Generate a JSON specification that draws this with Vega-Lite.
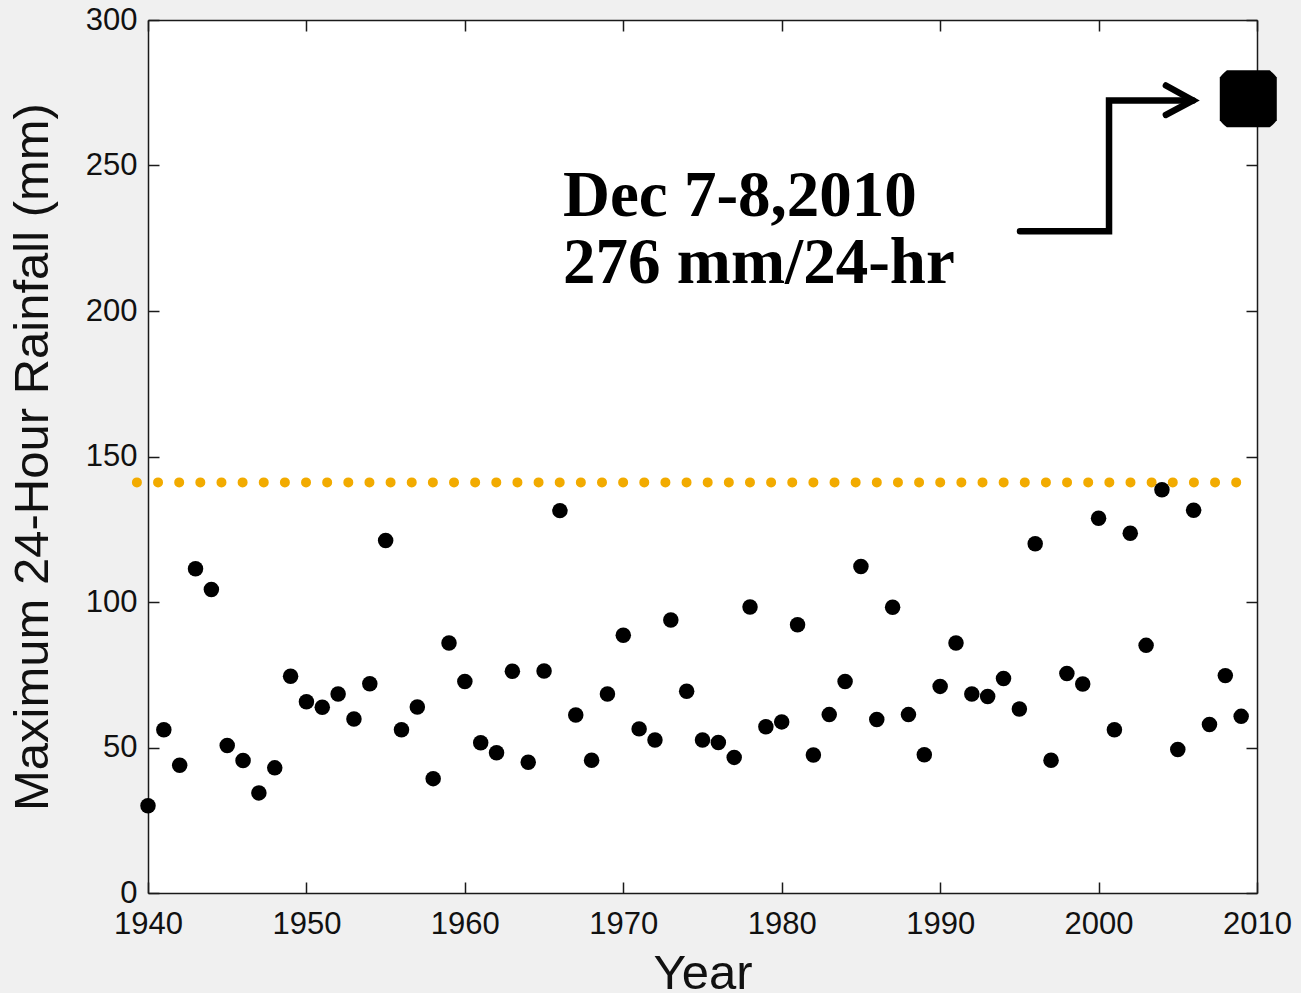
{
  "$schema": "https://vega.github.io/schema/vega-lite/v6.json",
  "width": 1109,
  "height": 873,
  "autosize": {"type": "none"},
  "padding": {"left": 148, "top": 20, "right": 44, "bottom": 100},
  "background": "#f0f0f0",
  "config": {
    "view": {"fill": "white", "stroke": null},
    "font": "Liberation Sans",
    "axis": {
      "domainColor": "#1a1a1a",
      "domainWidth": 1.5,
      "tickColor": "#1a1a1a",
      "tickWidth": 1.5,
      "tickSize": -11,
      "grid": false,
      "labelFont": "Liberation Sans",
      "labelFontSize": 31,
      "labelColor": "#111111",
      "titleFont": "Liberation Sans",
      "titleFontSize": 49,
      "titleFontWeight": "normal",
      "titleColor": "#111111",
      "labelFlush": false,
      "labelOverlap": false
    }
  },
  "datasets": {
    "rain": [
      {"year": 1940, "mm": 30.0}, {"year": 1941, "mm": 56.1}, {"year": 1942, "mm": 43.9},
      {"year": 1943, "mm": 111.4}, {"year": 1944, "mm": 104.3}, {"year": 1945, "mm": 50.7},
      {"year": 1946, "mm": 45.5}, {"year": 1947, "mm": 34.4}, {"year": 1948, "mm": 43.0},
      {"year": 1949, "mm": 74.5}, {"year": 1950, "mm": 65.7}, {"year": 1951, "mm": 63.8},
      {"year": 1952, "mm": 68.4}, {"year": 1953, "mm": 59.8}, {"year": 1954, "mm": 71.9},
      {"year": 1955, "mm": 121.1}, {"year": 1956, "mm": 56.1}, {"year": 1957, "mm": 63.9},
      {"year": 1958, "mm": 39.3}, {"year": 1959, "mm": 85.9}, {"year": 1960, "mm": 72.7},
      {"year": 1961, "mm": 51.6}, {"year": 1962, "mm": 48.2}, {"year": 1963, "mm": 76.2},
      {"year": 1964, "mm": 44.9}, {"year": 1965, "mm": 76.3}, {"year": 1966, "mm": 131.4},
      {"year": 1967, "mm": 61.2}, {"year": 1968, "mm": 45.6}, {"year": 1969, "mm": 68.4},
      {"year": 1970, "mm": 88.6}, {"year": 1971, "mm": 56.4}, {"year": 1972, "mm": 52.6},
      {"year": 1973, "mm": 93.8}, {"year": 1974, "mm": 69.3}, {"year": 1975, "mm": 52.6},
      {"year": 1976, "mm": 51.7}, {"year": 1977, "mm": 46.6}, {"year": 1978, "mm": 98.3},
      {"year": 1979, "mm": 57.1}, {"year": 1980, "mm": 58.8}, {"year": 1981, "mm": 92.2},
      {"year": 1982, "mm": 47.4}, {"year": 1983, "mm": 61.3}, {"year": 1984, "mm": 72.7},
      {"year": 1985, "mm": 112.2}, {"year": 1986, "mm": 59.6}, {"year": 1987, "mm": 98.2},
      {"year": 1988, "mm": 61.3}, {"year": 1989, "mm": 47.5}, {"year": 1990, "mm": 71.0},
      {"year": 1991, "mm": 85.9}, {"year": 1992, "mm": 68.4}, {"year": 1993, "mm": 67.5},
      {"year": 1994, "mm": 73.7}, {"year": 1995, "mm": 63.2}, {"year": 1996, "mm": 120.0},
      {"year": 1997, "mm": 45.6}, {"year": 1998, "mm": 75.4}, {"year": 1999, "mm": 71.8},
      {"year": 2000, "mm": 128.8}, {"year": 2001, "mm": 56.1}, {"year": 2002, "mm": 123.6},
      {"year": 2003, "mm": 85.1}, {"year": 2004, "mm": 138.6}, {"year": 2005, "mm": 49.3},
      {"year": 2006, "mm": 131.5}, {"year": 2007, "mm": 57.9}, {"year": 2008, "mm": 74.7},
      {"year": 2009, "mm": 60.7}
    ],
    "extreme": [{"year": 2009.45, "mm": 272.9}],
    "threshold": [{"year": 1939.3, "mm": 141.1}, {"year": 2008.8, "mm": 141.1}],
    "arrow": [
      {"seg": "path", "ord": 1, "year": 1995.04, "mm": 227.4},
      {"seg": "path", "ord": 2, "year": 2000.66, "mm": 227.4},
      {"seg": "path", "ord": 3, "year": 2000.66, "mm": 272.36},
      {"seg": "path", "ord": 4, "year": 2005.96, "mm": 272.36},
      {"seg": "head", "ord": 1, "year": 2004.25, "mm": 277.5},
      {"seg": "head", "ord": 2, "year": 2005.96, "mm": 272.36},
      {"seg": "head", "ord": 3, "year": 2004.25, "mm": 267.4}
    ],
    "notes": [
      {"year": 1966.2, "mm": 232.6, "label": "Dec 7-8,2010"},
      {"year": 1966.2, "mm": 209.7, "label": "276 mm/24-hr"}
    ]
  },
  "layer": [
    {
      "data": {"name": "threshold"},
      "mark": {"type": "line", "color": "#f2ab00", "strokeWidth": 10, "strokeCap": "round", "strokeDash": [0, 21.14], "clip": false},
      "encoding": {
        "x": {
          "field": "year", "type": "quantitative",
          "scale": {"domain": [1940, 2010], "nice": false, "zero": false},
          "axis": {"orient": "bottom", "title": "Year", "values": [1940, 1950, 1960, 1970, 1980, 1990, 2000, 2010], "format": "d", "labelPadding": 27, "titlePadding": 10}
        },
        "y": {
          "field": "mm", "type": "quantitative",
          "scale": {"domain": [0, 300], "nice": false},
          "axis": {"orient": "left", "title": "Maximum 24-Hour Rainfall (mm)", "values": [0, 50, 100, 150, 200, 250, 300], "labelPadding": 22, "titlePadding": 28}
        }
      }
    },
    {
      "data": {"name": "rain"},
      "mark": {"type": "point", "shape": "circle", "filled": true, "color": "black", "opacity": 1, "size": 240},
      "encoding": {
        "x": {
          "field": "year", "type": "quantitative",
          "axis": {"orient": "top", "title": null, "labels": false, "values": [1940, 1950, 1960, 1970, 1980, 1990, 2000, 2010]}
        },
        "y": {
          "field": "mm", "type": "quantitative",
          "axis": {"orient": "right", "title": null, "labels": false, "values": [0, 50, 100, 150, 200, 250, 300]}
        }
      }
    },
    {
      "data": {"name": "extreme"},
      "mark": {"type": "point", "shape": "M -0.75 -1 L 0.75 -1 L 0.85 -0.92 L 0.92 -0.85 L 1 -0.75 L 1 0.75 L 0.92 0.85 L 0.85 0.92 L 0.75 1 L -0.75 1 L -0.85 0.92 L -0.92 0.85 L -1 0.75 L -1 -0.75 L -0.92 -0.85 L -0.85 -0.92 Z", "filled": true, "color": "black", "opacity": 1, "size": 3249, "clip": false},
      "encoding": {
        "x": {"field": "year", "type": "quantitative", "axis": null},
        "y": {"field": "mm", "type": "quantitative", "axis": null}
      }
    },
    {
      "data": {"name": "arrow"},
      "mark": {"type": "line", "color": "black", "strokeWidth": 6.5, "strokeCap": "round", "strokeJoin": "miter"},
      "encoding": {
        "x": {"field": "year", "type": "quantitative", "axis": null},
        "y": {"field": "mm", "type": "quantitative", "axis": null},
        "detail": {"field": "seg"},
        "order": {"field": "ord"}
      }
    },
    {
      "data": {"name": "notes"},
      "mark": {"type": "text", "font": "Liberation Serif", "fontWeight": "bold", "fontSize": 65, "align": "left", "baseline": "alphabetic", "color": "black"},
      "encoding": {
        "x": {"field": "year", "type": "quantitative", "axis": null},
        "y": {"field": "mm", "type": "quantitative", "axis": null},
        "text": {"field": "label"}
      }
    }
  ]
}
